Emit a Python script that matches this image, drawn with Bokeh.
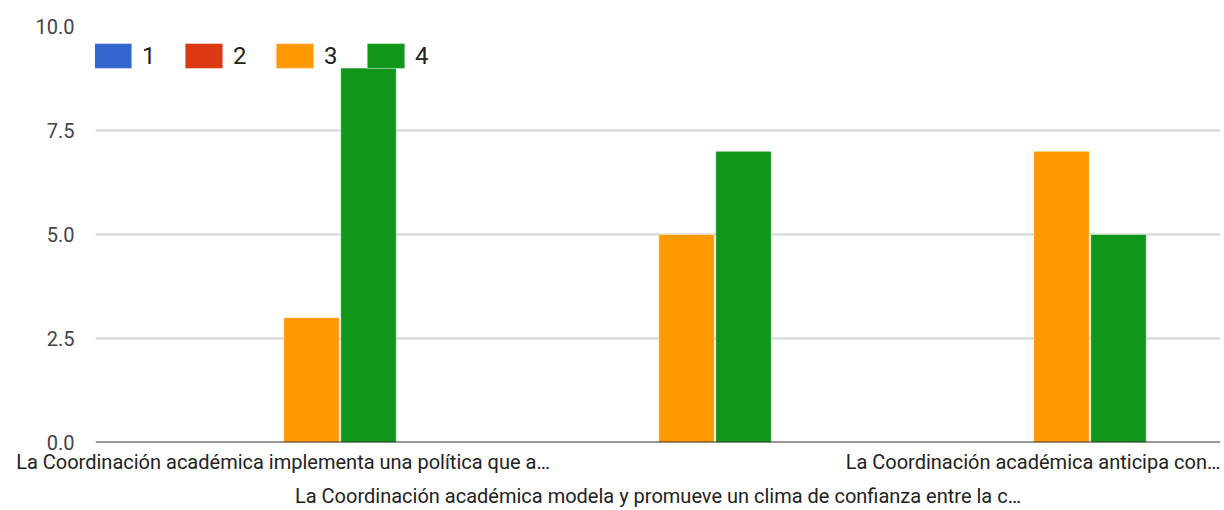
from bokeh.plotting import figure
from bokeh.models import (Range1d, FixedTicker, LinearAxis, Span, Legend, LegendItem,
                          NumeralTickFormatter, ColumnDataSource)
from bokeh.transform import dodge
from bokeh.embed import file_html
from bokeh.resources import INLINE

categories = [
    "La Coordinación académica implementa una política que a…",
    "La Coordinación académica modela y promueve un clima de confianza entre la c…",
    "La Coordinación académica anticipa con…",
]
series_names = ["1", "2", "3", "4"]
s1 = [0, 0, 0]
s2 = [0, 0, 0]
s3 = [3, 5, 7]
s4 = [9, 7, 5]
y_ticks = [0, 2.5, 5, 7.5, 10]
colors = ["#3366CC", "#DC3912", "#FF9900", "#109618"]

FONT = "Roboto"
W, H = 1224, 510

src = ColumnDataSource(dict(x=list(range(len(categories))), s1=s1, s2=s2, s3=s3, s4=s4))

p = figure(width=W, height=H, output_backend="svg", toolbar_location=None,
           x_range=Range1d(-0.5, len(categories) - 0.5), y_range=Range1d(0, 10),
           min_border_left=95, min_border_right=4, min_border_top=26, min_border_bottom=68,
           x_axis_location=None)
p.outline_line_color = None
p.background_fill_color = "white"

bw = 0.152
offsets = [(k - 1.5) * bw for k in range(4)]
renderers = []
for k, (col, name) in enumerate(zip(["s1", "s2", "s3", "s4"], series_names)):
    r = p.vbar(x=dodge("x", offsets[k], range=p.x_range), top=col, width=bw - 0.004, bottom=0,
               source=src, fill_color=colors[k], line_color="white", line_alpha=0.45, line_width=1)
    renderers.append(r)

# y axis
p.yaxis.ticker = FixedTicker(ticks=y_ticks)
p.yaxis.formatter = NumeralTickFormatter(format="0.0")
p.yaxis.axis_line_color = None
p.yaxis.major_tick_line_color = None
p.yaxis.minor_tick_line_color = None
p.yaxis.major_tick_out = 0
p.yaxis.major_label_standoff = 21
p.yaxis.major_label_text_font = FONT
p.yaxis.major_label_text_font_size = "20px"
p.yaxis.major_label_text_color = "#444444"

p.ygrid.ticker = FixedTicker(ticks=y_ticks)
p.ygrid.grid_line_color = "#d4d4d4"
p.ygrid.grid_line_width = 2
p.xgrid.visible = False

p.add_layout(Span(location=0, dimension="width", line_color="#333333", line_width=2))

# staggered category labels: two x axes
idx = list(range(len(categories)))
row1 = [i for i in idx if i % 2 == 0]
row2 = [i for i in idx if i % 2 == 1]
for ticks, standoff in ((row1, 7), (row2, 7)):
    ax = LinearAxis(ticker=FixedTicker(ticks=ticks),
                    major_label_overrides={i: categories[i] for i in ticks})
    ax.axis_line_color = None
    ax.major_tick_line_color = None
    ax.minor_tick_line_color = None
    ax.major_tick_out = 0
    ax.minor_tick_out = 0
    ax.major_label_standoff = standoff
    ax.major_label_text_font = FONT
    ax.major_label_text_font_size = "20px"
    ax.major_label_text_color = "#222222"
    p.add_layout(ax, "below")

legend = Legend(items=[LegendItem(label=n, renderers=[r]) for n, r in zip(series_names, renderers)],
                orientation="horizontal", location=(-6, 371))
legend.glyph_width = 47
legend.glyph_height = 31
legend.label_standoff = 6
legend.label_width = 14
legend.label_height = 31
legend.spacing = 24
legend.padding = 0
legend.margin = 0
legend.border_line_color = None
legend.background_fill_alpha = 0
legend.label_text_font = FONT
legend.label_text_font_size = "24px"
legend.label_text_color = "#222222"
p.add_layout(legend)

open("out.html", "w").write(file_html(p, INLINE))
